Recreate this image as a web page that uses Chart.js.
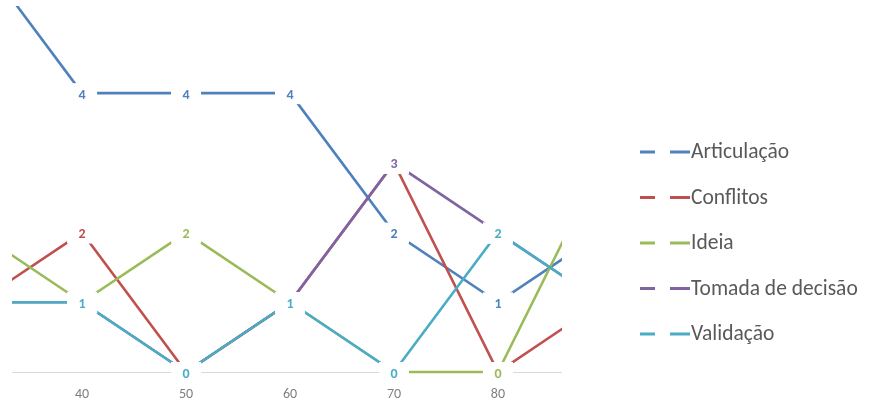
<!DOCTYPE html>
<html>
<head>
<meta charset="utf-8">
<script src="https://cdn.jsdelivr.net/npm/chart.js@4/dist/chart.umd.min.js"></script>
<style>
  html, body { margin: 0; padding: 0; background: #ffffff; }
  #wrap { width: 869px; height: 405px; position: relative; }
</style>
</head>
<body>
<div id="wrap"><canvas id="chart"></canvas></div>
<script>
// Categories (x positions) and the tick labels shown on the axis
const xValues = [30, 40, 50, 60, 70, 80, 90];
const xTicks = [40, 50, 60, 70, 80];

// Series
const seriesNames = ['Articulação', 'Conflitos', 'Ideia', 'Tomada de decisão', 'Validação'];
const articulacao = [6, 4, 4, 4, 2, 1, 2];
const conflitos   = [1, 2, 0, 1, 3, 0, 1];
const ideia       = [2, 1, 2, 1, 0, 0, 3];
const tomada      = [1, 1, 0, 1, 3, 2, 1];
const validacao   = [1, 1, 0, 1, 0, 2, 1];

const seriesValues = [articulacao, conflitos, ideia, tomada, validacao];
const seriesColors = ['#4F81BD', '#C0504D', '#9BBB59', '#8064A2', '#4BACC6'];

const FONT = 'Carlito, Lato, "Open Sans", sans-serif';

// Later series are painted over earlier ones
const datasets = seriesNames.map((name, i) => ({
  label: name,
  data: xValues.map((x, j) => ({ x: x, y: seriesValues[i][j] })),
  borderColor: seriesColors[i],
  backgroundColor: seriesColors[i],
  borderWidth: 2.6,
  pointRadius: 0,
  pointHoverRadius: 0,
  tension: 0,
  fill: false,
  clip: { left: 0, top: 0, right: 0, bottom: 6 },
  order: seriesNames.length - i
}));

// Axis line along the bottom of the plot area
const axisLine = {
  id: 'axisLine',
  beforeDatasetsDraw(chart) {
    const { ctx, chartArea } = chart;
    ctx.save();
    ctx.strokeStyle = '#d9d9d9';
    ctx.lineWidth = 1;
    ctx.beginPath();
    ctx.moveTo(chartArea.left, chartArea.bottom + 0.5);
    ctx.lineTo(chartArea.right, chartArea.bottom + 0.5);
    ctx.stroke();
    ctx.restore();
  }
};

// Value labels on white boxes at every visible point
const valueLabels = {
  id: 'valueLabels',
  afterDatasetsDraw(chart) {
    const { ctx, chartArea } = chart;
    const xs = chart.scales.x, ys = chart.scales.y;
    ctx.save();
    ctx.font = 'bold 14px ' + FONT;
    ctx.textAlign = 'center';
    ctx.textBaseline = 'middle';
    seriesNames.forEach((name, i) => {
      xValues.forEach((xv, j) => {
        const v = seriesValues[i][j];
        const px = xs.getPixelForValue(xv);
        const py = ys.getPixelForValue(v);
        if (px < chartArea.left || px > chartArea.right) return;
        ctx.fillStyle = '#ffffff';
        ctx.fillRect(px - 15, py - 10, 30, 21);
        ctx.fillStyle = seriesColors[i];
        ctx.fillText(String(v), px, py + 2);
      });
    });
    ctx.restore();
  }
};

// Legend column on the right with dashed keys
const dashLegend = {
  id: 'dashLegend',
  afterDraw(chart) {
    const { ctx } = chart;
    ctx.save();
    ctx.font = '21.5px ' + FONT;
    ctx.textAlign = 'left';
    ctx.textBaseline = 'middle';
    seriesNames.forEach((name, i) => {
      const y = 152 + i * 45.5;
      ctx.strokeStyle = seriesColors[i];
      ctx.lineWidth = 3;
      ctx.beginPath();
      ctx.moveTo(640, y); ctx.lineTo(655, y);
      ctx.moveTo(670, y); ctx.lineTo(690, y);
      ctx.stroke();
      ctx.fillStyle = '#595959';
      ctx.fillText(name, 691, y + 1);
    });
    ctx.restore();
  }
};

new Chart(document.getElementById('chart'), {
  type: 'line',
  data: { datasets },
  options: {
    responsive: true,
    maintainAspectRatio: false,
    animation: false,
    events: [],
    layout: { padding: { left: 12, right: 307, top: 6, bottom: 0 } },
    plugins: {
      legend: { display: false },
      tooltip: { enabled: false }
    },
    scales: {
      x: {
        type: 'linear',
        min: 33.26,
        max: 86.16,
        afterBuildTicks(scale) { scale.ticks = xTicks.map(v => ({ value: v })); },
        afterFit(scale) { scale.height = 33; scale.paddingLeft = 0; scale.paddingRight = 0; },
        grid: { display: false, drawTicks: false },
        border: { display: false },
        ticks: {
          color: '#808080',
          font: { family: FONT, size: 14 },
          padding: 14,
          maxRotation: 0,
          autoSkip: false
        }
      },
      y: {
        display: false,
        min: 0,
        max: 5.25
      }
    }
  },
  plugins: [axisLine, valueLabels, dashLegend]
});
</script>
</body>
</html>
